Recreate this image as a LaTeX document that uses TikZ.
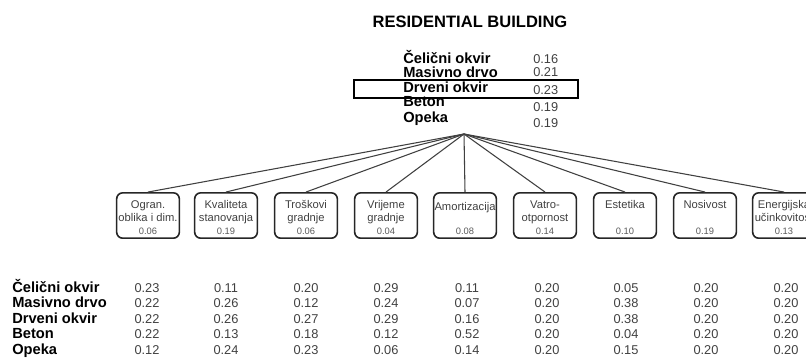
\documentclass[tikz,border=0pt]{standalone}
\usepackage{fontspec}
\setmainfont{Liberation Sans}
\begin{document}
\begin{tikzpicture}[x=0.75pt,y=-0.75pt,
  title/.style={font=\fontsize{12.4}{14}\selectfont\bfseries,anchor=base,inner sep=0},
  lab/.style={font=\fontsize{11}{13}\selectfont\bfseries,anchor=base west,inner sep=0},
  val/.style={font=\fontsize{9.6}{11}\selectfont,text=black!75,anchor=base,inner sep=0},
  tval/.style={font=\fontsize{9.6}{11}\selectfont,text=black!75,anchor=base west,inner sep=0},
  cbox/.style={draw=black!85,line width=1.2pt,rounded corners=4.5pt,minimum width=47pt,minimum height=34pt,inner sep=0},
  ctext/.style={font=\fontsize{8.4}{10}\selectfont,text=black!75,anchor=base,inner sep=0},
  cval/.style={font=\fontsize{7}{8}\selectfont,text=black!65,anchor=base,inner sep=0},
  conn/.style={draw=black!75,line width=0.8pt},
  selbox/.style={draw=black,line width=0.8pt,minimum width=168pt,minimum height=13.5pt,inner sep=0}]
\useasboundingbox (0,0) rectangle (806,358);
\node[title] (t) at (470,27) {RESIDENTIAL BUILDING};
% top list
\node[selbox] (sel) at (466,89) {};
\node[lab] (l1) at (403,63) {Čelični okvir};
\node[lab] (l2) at (403,77) {Masivno drvo};
\node[lab] (l3) at (403,92) {Drveni okvir};
\node[lab] (l4) at (403,106) {Beton};
\node[lab] (l5) at (403,122) {Opeka};
\node[tval] (v1) at (533,63) {0.16};
\node[tval] (v2) at (533,76) {0.21};
\node[tval] (v3) at (533,94) {0.23};
\node[tval] (v4) at (533,111) {0.19};
\node[tval] (v5) at (533,127) {0.19};
\coordinate (hub) at (464,134);
% criteria boxes
\newcommand\critnode[6]{%
  \node[cbox] (#1) at (#2,215.5) {};
  \node[ctext] (#1a) at (#2,#6) {#3};
  \node[ctext] (#1b) at (#2,221) {#4};
  \node[cval] (#1c) at (#2,234) {#5};
  \draw[conn] (hub) -- (#1.north);}
\critnode{b1}{148}{Ogran.}{oblika i dim.}{0.06}{208}
\critnode{b2}{226}{Kvaliteta}{stanovanja}{0.19}{208}
\critnode{b3}{306}{Troškovi}{gradnje}{0.06}{208}
\critnode{b4}{386}{Vrijeme}{gradnje}{0.04}{208}
\critnode{b5}{465}{Amortizacija}{}{0.08}{210}
\critnode{b6}{545}{Vatro-}{otpornost}{0.14}{208}
\critnode{b7}{625}{Estetika}{}{0.10}{208}
\critnode{b8}{705}{Nosivost}{}{0.19}{208}
\critnode{b9}{784}{Energijska}{učinkovitost}{0.13}{208}
% bottom table
\node[lab] (r1) at (12,292) {Čelični okvir};
\node[lab] (r2) at (12,307.5) {Masivno drvo};
\node[lab] (r3) at (12,323) {Drveni okvir};
\node[lab] (r4) at (12,338.5) {Beton};
\node[lab] (r5) at (12,354) {Opeka};
\foreach \x/\a/\b/\c/\d/\e in {
  147/0.23/0.22/0.22/0.22/0.12,
  226/0.11/0.26/0.26/0.13/0.24,
  306/0.20/0.12/0.27/0.18/0.23,
  386/0.29/0.24/0.29/0.12/0.06,
  467/0.11/0.07/0.16/0.52/0.14,
  547/0.20/0.20/0.20/0.20/0.20,
  626/0.05/0.38/0.38/0.04/0.15,
  706/0.20/0.20/0.20/0.20/0.20,
  786/0.20/0.20/0.20/0.20/0.20}{
  \node[val] (c\x r1) at (\x,292) {\a};
  \node[val] (c\x r2) at (\x,307.5) {\b};
  \node[val] (c\x r3) at (\x,323) {\c};
  \node[val] (c\x r4) at (\x,338.5) {\d};
  \node[val] (c\x r5) at (\x,354) {\e};
}
\end{tikzpicture}
\end{document}
